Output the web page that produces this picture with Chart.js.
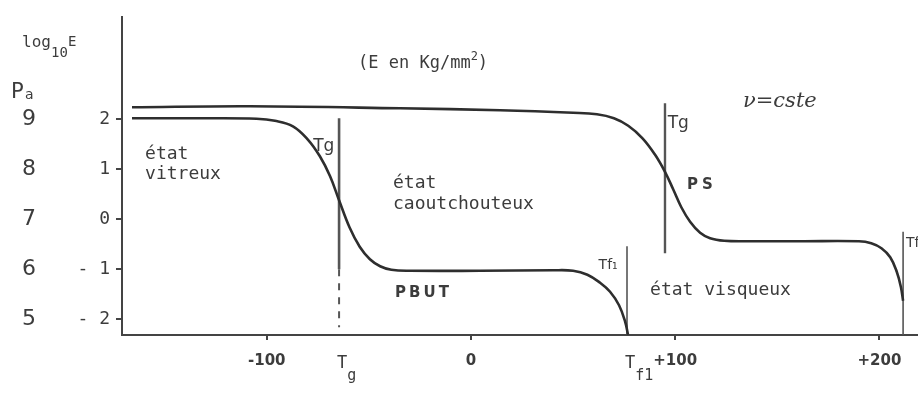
<!DOCTYPE html>
<html><head><meta charset="utf-8">
<script src="https://cdn.jsdelivr.net/npm/chart.js@4.4.0/dist/chart.umd.min.js"></script>
<style>html,body{margin:0;padding:0;background:#fff;overflow:hidden}#wrap{width:918px;height:394px}</style>
</head><body><div id="wrap"><canvas id="c" width="918" height="394"></canvas></div>
<script>
// ---- data (temperature in °C, log10 E) ----
const psT     = [-166, -108.2, -34.7, 14.3, 50, 61.7, 70, 77, 84, 90, 95, 99, 103, 107.3, 112.2, 117.1, 124, 135, 161.2, 190, 196, 201, 205.3, 208.5, 210.5, 211.6];
const psLogE  = [2.24, 2.26, 2.22, 2.18, 2.13, 2.10, 2.02, 1.87, 1.62, 1.30, 0.95, 0.60, 0.24, -0.05, -0.27, -0.38, -0.43, -0.44, -0.44, -0.44, -0.48, -0.58, -0.76, -1.05, -1.35, -1.63];
const pbutT    = [-166, -130, -105, -96, -87.2, -80, -74, -69, -64.6, -59.5, -54.5, -49.5, -44.5, -39, -30, 4.5, 40, 50, 57, 63.2, 68.1, 72.5, 75.5, 76.9];
const pbutLogE = [2.02, 2.02, 2.01, 1.97, 1.86, 1.60, 1.26, 0.86, 0.38, -0.16, -0.55, -0.80, -0.94, -1.01, -1.03, -1.03, -1.02, -1.03, -1.11, -1.27, -1.45, -1.72, -2.05, -2.31];
// transition markers
const tgPBUT = -64.6, tgPBUTtop = 2.02, tgPBUTsolidEnd = -1.0, tgPBUTdashEnd = -2.16;
const tgPS = 95.0, tgPStop = 2.32, tgPSbottom = -0.68;
const tf1PBUT = 76.4, tf1Top = -0.54;
const tfPS = 211.6, tfPStop = -0.25;
// axes
const xMin = -170.9, xMax = 218.9, yMin = -2.315, yMax = 4.05;
const xTicks = [-100, 0, 100, 200];
const xTickLabels = ["-100", "0", "+100", "+200"];
const yTicks = [2, 1, 0, -1, -2];
const yTickLabels = ["2", "1", "0", "- 1", "- 2"];
const paTickLabels = ["9", "8", "7", "6", "5"];

const ink = '#2e2e2e', txt = '#3c3c3c', mono = '"DejaVu Sans Mono", monospace';
const pts = (xs, ys) => xs.map((x, i) => ({x, y: ys[i]}));
const vline = (x, y0, y1) => [{x, y: y0}, {x, y: y1}];

const curve = {showLine: true, pointRadius: 0, borderColor: ink, borderWidth: 2.6, tension: 0.4, fill: false};
const marker = {showLine: true, pointRadius: 0, borderColor: '#555', borderWidth: 2, fill: false};

const annotations = [
  {t: 'état', x: -159.6, y: 1.21, f: '18px ' + mono},
  {t: 'vitreux', x: -159.6, y: 0.80, f: '18px ' + mono},
  {t: 'état', x: -38.2, y: 0.62, f: '18px ' + mono},
  {t: 'caoutchouteux', x: -38.2, y: 0.21, f: '18px ' + mono},
  {t: 'état visqueux', x: 87.7, y: -1.51, f: '18px ' + mono},
  {t: 'PBUT', x: -37.2, y: -1.55, f: 'bold 15px "DejaVu Sans"', ls: '3px'},
  {t: 'PS', x: 105.8, y: 0.60, f: 'bold 15px "DejaVu Sans"', ls: '4px'},
  {t: 'ν=cste', x: 133.2, y: 2.24, f: 'italic 21px "DejaVu Serif"'},
  {t: 'Tg', x: -77.3, y: 1.37, f: '17px "DejaVu Sans"'},
  {t: 'Tg', x: 96.3, y: 1.82, f: '17px "DejaVu Sans"'},
  {t: 'Tf₁', x: 62.5, y: -1.0, f: '14px "DejaVu Sans"'},
  {t: 'Tf', x: 213, y: -0.56, f: '14px "DejaVu Sans"'}
];

const textPlugin = {
  id: 'texts',
  afterDraw(chart) {
    const {ctx, scales: {x, y}} = chart;
    ctx.save();
    ctx.fillStyle = txt;
    ctx.textBaseline = 'alphabetic';
    ctx.textAlign = 'left';
    for (const a of annotations) {
      ctx.font = a.f;
      ctx.letterSpacing = a.ls || '0px';
      ctx.fillText(a.t, x.getPixelForValue(a.x), y.getPixelForValue(a.y));
    }
    ctx.letterSpacing = '0px';
    // unit note
    const ux = x.getPixelForValue(-55.3), uy = y.getPixelForValue(3.02);
    ctx.font = '17px ' + mono;
    const s1 = '(E en Kg/mm';
    ctx.fillText(s1, ux, uy);
    let w = ctx.measureText(s1).width;
    ctx.font = '12px ' + mono;
    ctx.fillText('2', ux + w, uy - 8);
    w += ctx.measureText('2').width;
    ctx.font = '17px ' + mono;
    ctx.fillText(')', ux + w, uy);
    // y-axis title log10E
    ctx.font = '16px ' + mono;
    ctx.fillText('log', 22, 47);
    ctx.font = '14px ' + mono;
    ctx.fillText('10', 51, 57);
    ctx.font = '14px ' + mono;
    ctx.fillText('E', 68, 46);
    // Pa scale
    ctx.font = '21px "DejaVu Sans"';
    ctx.fillText('P', 11, 98);
    ctx.font = '14px "DejaVu Sans"';
    ctx.fillText('a', 25, 99);
    ctx.font = '22px "DejaVu Sans"';
    ctx.textAlign = 'center';
    ctx.textBaseline = 'middle';
    yTicks.forEach((v, i) => ctx.fillText(paTickLabels[i], 29, y.getPixelForValue(v)));
    // Tg / Tf1 under the x axis
    ctx.textAlign = 'left';
    ctx.textBaseline = 'alphabetic';
    const under = [[tgPBUT, 'g'], [tf1PBUT, 'f1']];
    for (const [v, sub] of under) {
      const px = x.getPixelForValue(v) - 2;
      ctx.font = '17px ' + mono;
      ctx.fillText('T', px, 368);
      const tw = ctx.measureText('T').width;
      ctx.font = '15px ' + mono;
      ctx.fillText(sub, px + tw, 380);
    }
    ctx.restore();
  }
};

new Chart(document.getElementById('c'), {
  type: 'scatter',
  data: {datasets: [
    Object.assign({label: 'PS', data: pts(psT, psLogE)}, curve),
    Object.assign({label: 'PBUT', data: pts(pbutT, pbutLogE)}, curve),
    Object.assign({label: 'Tg PBUT', data: vline(tgPBUT, tgPBUTtop, tgPBUTsolidEnd)}, marker, {borderWidth: 2.6}),
    Object.assign({label: 'Tg PBUT dash', data: vline(tgPBUT, tgPBUTsolidEnd, tgPBUTdashEnd)}, marker, {borderDash: [7, 7]}),
    Object.assign({label: 'Tg PS', data: vline(tgPS, tgPStop, tgPSbottom)}, marker, {borderWidth: 2.4}),
    Object.assign({label: 'Tf1 PBUT', data: vline(tf1PBUT, tf1Top, yMin)}, marker, {borderWidth: 1.6}),
    Object.assign({label: 'Tf PS', data: vline(tfPS, tfPStop, yMin)}, marker, {borderWidth: 1.6})
  ]},
  options: {
    responsive: false, animation: false, devicePixelRatio: 1,
    layout: {padding: {top: 12, left: 0, right: 0, bottom: 0}},
    plugins: {legend: {display: false}, tooltip: {enabled: false}},
    scales: {
      x: {
        type: 'linear', min: xMin, max: xMax,
        afterBuildTicks: s => { s.ticks = xTicks.map(v => ({value: v})); },
        afterFit: s => { s.height = 59; },
        ticks: {callback: v => xTickLabels[xTicks.indexOf(v)], color: txt, font: {family: 'DejaVu Sans', size: 15, weight: 'bold'}, padding: 12, maxRotation: 0, autoSkip: false},
        grid: {drawOnChartArea: false, drawTicks: true, tickLength: 5, color: '#444', lineWidth: 2},
        border: {color: '#444', width: 2}
      },
      y: {
        type: 'linear', min: yMin, max: yMax,
        afterBuildTicks: s => { s.ticks = yTicks.map(v => ({value: v})); },
        afterFit: s => { s.width = 122; },
        ticks: {callback: v => yTickLabels[yTicks.indexOf(v)], color: txt, font: {family: 'DejaVu Sans Mono', size: 18}, padding: 6, autoSkip: false},
        grid: {drawOnChartArea: false, drawTicks: true, tickLength: 6, color: '#444', lineWidth: 2},
        border: {color: '#444', width: 2}
      }
    }
  },
  plugins: [textPlugin]
});
</script></body></html>
